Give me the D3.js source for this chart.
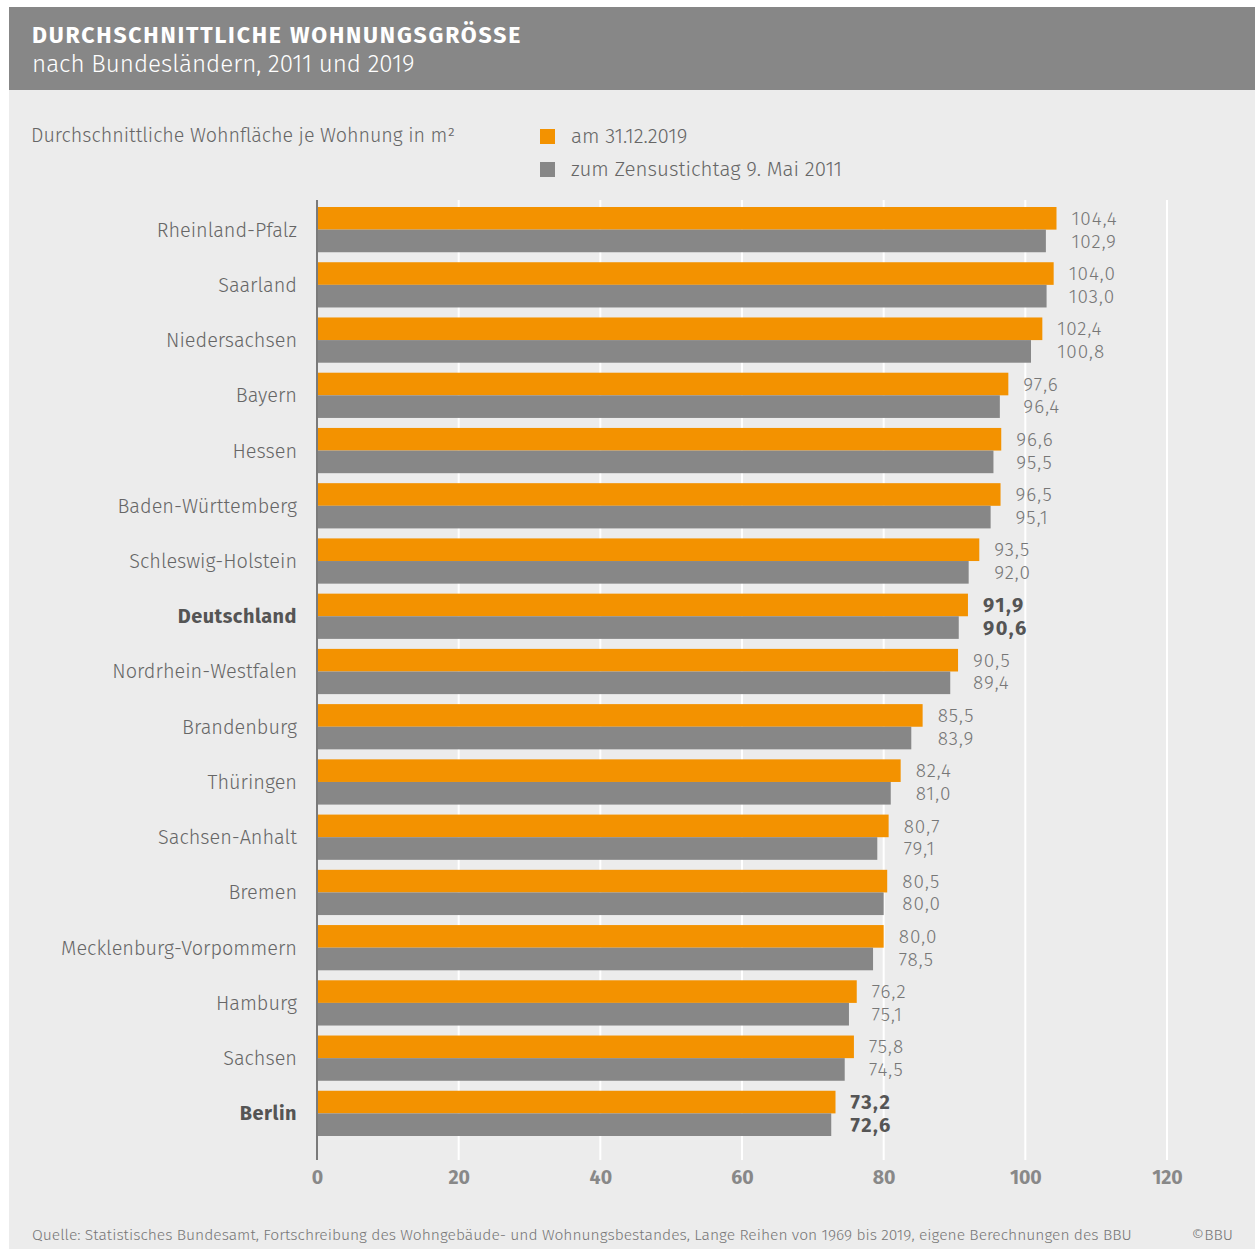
<!DOCTYPE html>
<html><head><meta charset="utf-8">
<script src="https://cdn.jsdelivr.net/npm/d3@7"></script>
<style>
body{margin:0;background:#fff;}
svg{display:block;font-family:"Fira Sans","Noto Sans",sans-serif;}
</style></head>
<body>
<svg id="c" width="1255" height="1249"></svg>
<script>
const categories = ["Rheinland-Pfalz","Saarland","Niedersachsen","Bayern","Hessen","Baden-Württemberg","Schleswig-Holstein","Deutschland","Nordrhein-Westfalen","Brandenburg","Thüringen","Sachsen-Anhalt","Bremen","Mecklenburg-Vorpommern","Hamburg","Sachsen","Berlin"];
const values2019 = [104.4,104.0,102.4,97.6,96.6,96.5,93.5,91.9,90.5,85.5,82.4,80.7,80.5,80.0,76.2,75.8,73.2];
const values2011 = [102.9,103.0,100.8,96.4,95.5,95.1,92.0,90.6,89.4,83.9,81.0,79.1,80.0,78.5,75.1,74.5,72.6];
const highlighted = ["Deutschland","Berlin"];
const xTicks = [0,20,40,60,80,100,120];
const seriesNames = ["am 31.12.2019","zum Zensustichtag 9. Mai 2011"];
const title = "DURCHSCHNITTLICHE WOHNUNGSGRÖSSE";
const subtitle = "nach Bundesländern, 2011 und 2019";
const unitLabel = "Durchschnittliche Wohnfläche je Wohnung in m²";
const source = "Quelle: Statistisches Bundesamt, Fortschreibung des Wohngebäude- und Wohnungsbestandes, Lange Reihen von 1969 bis 2019, eigene Berechnungen des BBU";
const copyright = "©BBU";

const ORANGE = "#f39200", GRAY = "#878787", BG = "#ececec";
const svg = d3.select("#c");
const fmt = v => v.toFixed(1).replace(".", ",");

// panels
svg.append("rect").attr("x",9).attr("y",7).attr("width",1246).attr("height",1242).attr("fill",BG);
svg.append("rect").attr("x",9).attr("y",7).attr("width",1246).attr("height",83).attr("fill",GRAY);
svg.append("text").attr("x",32).attr("y",43).attr("fill","#fff").attr("font-size",23).attr("font-weight","bold")
  .attr("letter-spacing","1.8").text(title);
svg.append("text").attr("x",32).attr("y",72).attr("fill","#fff").attr("font-size",24.2).attr("font-weight",300).text(subtitle);

svg.append("text").attr("x",31).attr("y",142).attr("fill","#666").attr("font-size",19.7).attr("font-weight",300).text(unitLabel);

// legend
const legColors = [ORANGE, GRAY];
seriesNames.forEach((n,i)=>{
  const y = 136 + i*33;
  svg.append("rect").attr("x",540).attr("y",y-7).attr("width",15).attr("height",15).attr("fill",legColors[i]);
  svg.append("text").attr("x",571).attr("y",y).attr("dy","0.35em").attr("fill","#666").attr("font-size",20.5).attr("font-weight",300).text(n);
});

const x = d3.scaleLinear().domain([0,120]).range([317,1167]);
const y = d3.scaleBand().domain(categories).range([207,1136]).paddingInner(0.181).paddingOuter(0);
const yy = d3.scaleBand().domain(["2019","2011"]).range([0,y.bandwidth()]);

// gridlines
svg.append("g").selectAll("line").data(xTicks.filter(t=>t>0)).join("line")
  .attr("x1",d=>x(d)).attr("x2",d=>x(d)).attr("y1",200).attr("y2",1160)
  .attr("stroke","#fff").attr("stroke-width",2);

const rows = svg.append("g").selectAll("g").data(categories).join("g")
  .attr("transform",d=>`translate(0,${y(d)})`);
rows.append("rect").attr("x",x(0)).attr("y",yy("2019")).attr("height",yy.bandwidth())
  .attr("width",(d,i)=>x(values2019[i])-x(0)).attr("fill",ORANGE);
rows.append("rect").attr("x",x(0)).attr("y",yy("2011")).attr("height",yy.bandwidth())
  .attr("width",(d,i)=>x(values2011[i])-x(0)).attr("fill",GRAY);

const isHi = d => highlighted.includes(d);
rows.append("text").attr("x",297).attr("y",y.bandwidth()/2).attr("dy","0.35em").attr("text-anchor","end")
  .attr("font-size",19.9).attr("fill",d=>isHi(d)?"#555":"#666").attr("font-weight",d=>isHi(d)?"bold":300)
  .attr("letter-spacing",d=>isHi(d)?"0.5":"0").text(d=>d);
const lblX = (d,i)=>x(Math.max(values2019[i],values2011[i]))+15;
const valStyle = sel => sel.attr("dy","0.35em")
  .attr("font-size",d=>isHi(d)?20:19).attr("letter-spacing",d=>isHi(d)?"1.5":"1")
  .attr("fill",d=>isHi(d)?"#555":"#777").attr("font-weight",d=>isHi(d)?"bold":300);
rows.append("text").attr("x",lblX).attr("y",yy("2019")+yy.bandwidth()/2)
  .call(valStyle).text((d,i)=>fmt(values2019[i]));
rows.append("text").attr("x",lblX).attr("y",yy("2011")+yy.bandwidth()/2)
  .call(valStyle).text((d,i)=>fmt(values2011[i]));

// axis
svg.append("line").attr("x1",x(0)).attr("x2",x(0)).attr("y1",200).attr("y2",1160).attr("stroke","#7a7a7a").attr("stroke-width",2);
const ax = svg.append("g").attr("transform","translate(0,1170)")
  .call(d3.axisBottom(x).tickValues(xTicks).tickSize(0).tickPadding(0).tickFormat(d3.format("d")));
ax.select(".domain").remove();
ax.selectAll("text").attr("font-size",19.5).attr("font-weight","bold").attr("fill","#888")
  .attr("font-family","'Fira Sans','Noto Sans',sans-serif");

svg.append("text").attr("x",32).attr("y",1240).attr("fill","#777").attr("font-size",15.6).attr("font-weight",300).text(source);
svg.append("text").attr("x",1233).attr("y",1240).attr("text-anchor","end").attr("fill","#777").attr("font-size",15.6).attr("font-weight",300).text(copyright);
</script>
</body></html>
